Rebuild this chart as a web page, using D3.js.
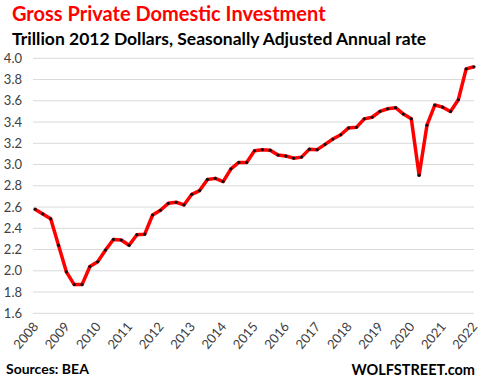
<!DOCTYPE html>
<html><head><meta charset="utf-8">
<script src="https://cdn.jsdelivr.net/npm/d3@7"></script>
<style>body{margin:0;background:#fff}svg{display:block}</style>
</head><body>
<script>
const quarters = [];
for (let y = 2008; y <= 2022; y++) for (let q = 1; q <= 4; q++) if (!(y === 2022 && q > 1)) quarters.push(y + (q - 1) / 4);
const values = [
  2.58, 2.535, 2.49, 2.24,
  1.99, 1.87, 1.87, 2.04,
  2.085, 2.195, 2.295, 2.29,
  2.24, 2.34, 2.345, 2.525,
  2.57, 2.635, 2.645, 2.62,
  2.72, 2.755, 2.86, 2.87,
  2.84, 2.96, 3.02, 3.02,
  3.13, 3.14, 3.135, 3.09,
  3.08, 3.06, 3.07, 3.145,
  3.14, 3.19, 3.24, 3.28,
  3.345, 3.35, 3.43, 3.445,
  3.50, 3.525, 3.535, 3.475,
  3.43, 2.90, 3.37, 3.56,
  3.54, 3.50, 3.61, 3.90,
  3.92
];
const yTicks = [1.6, 1.8, 2.0, 2.2, 2.4, 2.6, 2.8, 3.0, 3.2, 3.4, 3.6, 3.8, 4.0];
const xTicks = [2008, 2009, 2010, 2011, 2012, 2013, 2014, 2015, 2016, 2017, 2018, 2019, 2020, 2021, 2022];
const title = "Gross Private Domestic Investment";
const subtitle = "Trillion 2012 Dollars, Seasonally Adjusted Annual rate";
const source = "Sources: BEA";
const brand = "WOLFSTREET.com";

const W = 483, H = 388;
const svg = d3.select("body").append("svg").attr("width", W).attr("height", H);
const font = "Lato, 'Open Sans', sans-serif";

const x = d3.scaleLinear().domain([2008, 2022]).range([35, 474]);
const y = d3.scaleLinear().domain([1.6, 4.0]).range([313.3, 58.3]);

// gridlines
svg.append("g").selectAll("line").data(yTicks).join("line")
  .attr("x1", 33).attr("x2", 474)
  .attr("y1", d => y(d)).attr("y2", d => y(d))
  .attr("stroke", "#d9d9d9").attr("stroke-width", 1);

// y axis
const yAxis = svg.append("g").attr("transform", "translate(22,0)")
  .call(d3.axisLeft(y).tickValues(yTicks).tickFormat(d3.format(".1f")).tickSize(0).tickPadding(0));
yAxis.select(".domain").remove();
yAxis.selectAll("text").attr("font-family", font).attr("font-size", 13).attr("fill", "#404040");

// x axis labels
const xg = svg.append("g");
xg.selectAll("text").data(xTicks).join("text")
  .attr("transform", d => `translate(${x(d) + 4},${327}) rotate(-50)`)
  .attr("text-anchor", "end")
  .attr("font-family", font).attr("font-size", 13).attr("fill", "#404040")
  .text(d => d);

// line
const data = quarters.map((q, i) => ({q, v: values[i]}));
svg.append("path").datum(data)
  .attr("fill", "none").attr("stroke", "#ff0000").attr("stroke-width", 3.5)
  .attr("stroke-linejoin", "round")
  .attr("d", d3.line().x(d => x(d.q)).y(d => y(d.v)));
svg.append("g").selectAll("circle").data(data).join("circle")
  .attr("cx", d => x(d.q)).attr("cy", d => y(d.v)).attr("r", 1.6).attr("fill", "#111");

// titles
svg.append("text").attr("x", 12).attr("y", 21).attr("font-family", font).attr("font-weight", "bold")
  .attr("font-size", 20).attr("fill", "#ff0000").text(title);
svg.append("text").attr("x", 12).attr("y", 45).attr("font-family", font).attr("font-weight", "bold")
  .attr("font-size", 17.5).attr("fill", "#000").text(subtitle);
svg.append("text").attr("x", 6).attr("y", 374).attr("font-family", font).attr("font-weight", "bold")
  .attr("font-size", 14).attr("fill", "#000").text(source);
svg.append("text").attr("x", 475).attr("y", 375).attr("text-anchor", "end").attr("font-family", font).attr("font-weight", "bold")
  .attr("font-size", 14.5).attr("fill", "#000").text(brand);
</script>
</body></html>
